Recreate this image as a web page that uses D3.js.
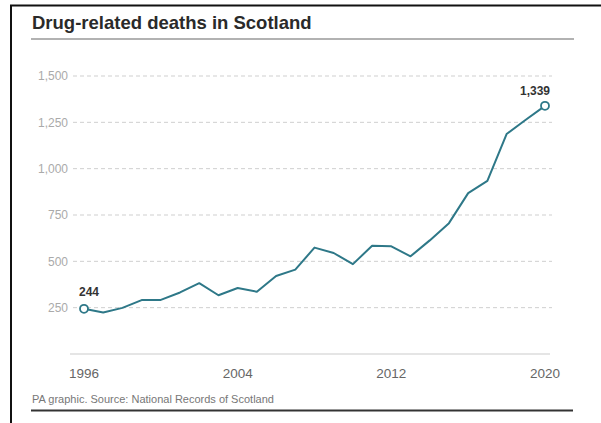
<!DOCTYPE html>
<html>
<head>
<meta charset="utf-8">
<script src="https://cdn.jsdelivr.net/npm/d3@7"></script>
<style>
  html, body { margin: 0; padding: 0; background: #fff; }
  svg { display: block; }
</style>
</head>
<body>
<svg id="chart" width="601" height="423"></svg>
<script>
// data
const years = [1996, 1997, 1998, 1999, 2000, 2001, 2002, 2003, 2004, 2005, 2006, 2007, 2008,
  2009, 2010, 2011, 2012, 2013, 2014, 2015, 2016, 2017, 2018, 2019, 2020];
const deaths = [244, 224, 249, 291, 292, 332, 382, 317, 356, 336, 421, 455, 574,
  545, 485, 584, 581, 527, 613, 706, 868, 934, 1187, 1264, 1339];
const yTicks = [250, 500, 750, 1000, 1250, 1500];
const xTicks = [1996, 2004, 2012, 2020];
const title = "Drug-related deaths in Scotland";
const source = "PA graphic. Source: National Records of Scotland";

const Viz = {};

Viz.initialize = (el) => {
  Viz.svg = d3.select(el);
  Viz.lineColor = "#2e7888";
  Viz.font = "'Liberation Sans', Arial, sans-serif";

  Viz.x = d3.scaleLinear().domain([1996, 2020]).range([84, 545]);
  Viz.y = d3.scaleLinear().domain([0, 1500]).range([354, 76]);

  const data = years.map((yr, i) => ({year: yr, value: deaths[i]}));

  // frame
  Viz.svg.append("line")
    .attr("x1", 11).attr("x2", 11).attr("y1", 5).attr("y2", 423)
    .attr("stroke", "#111").attr("stroke-width", 2);
  Viz.svg.append("line")
    .attr("x1", 10).attr("x2", 601).attr("y1", 5.5).attr("y2", 5.5)
    .attr("stroke", "#111").attr("stroke-width", 2);

  // title + rule
  Viz.svg.append("text")
    .attr("x", 32).attr("y", 29)
    .attr("font-family", Viz.font).attr("font-size", 18.5).attr("font-weight", "bold")
    .attr("fill", "#2a2a2a")
    .text(title);
  Viz.svg.append("line")
    .attr("x1", 31).attr("x2", 574).attr("y1", 39).attr("y2", 39)
    .attr("stroke", "#999").attr("stroke-width", 1.5);

  // grid
  const grid = Viz.svg.append("g").attr("class", "grid");
  grid.selectAll("line").data(yTicks).join("line")
    .attr("x1", 73).attr("x2", 552)
    .attr("y1", d => Viz.y(d)).attr("y2", d => Viz.y(d))
    .attr("stroke", "#cfcfcf").attr("stroke-dasharray", "4,3");
  grid.selectAll("text").data(yTicks).join("text")
    .attr("x", 68).attr("y", d => Viz.y(d)).attr("dy", "0.35em")
    .attr("text-anchor", "end")
    .attr("font-family", Viz.font).attr("font-size", 12)
    .attr("fill", "#aaa")
    .text(d => d3.format(",")(d));

  // x axis
  Viz.svg.append("line")
    .attr("x1", 70).attr("x2", 550).attr("y1", Viz.y(0)).attr("y2", Viz.y(0))
    .attr("stroke", "#ddd").attr("stroke-width", 1.5);
  Viz.svg.append("g").selectAll("text").data(xTicks).join("text")
    .attr("x", d => Viz.x(d)).attr("y", 378)
    .attr("text-anchor", "middle")
    .attr("font-family", Viz.font).attr("font-size", 13.5)
    .attr("fill", "#666")
    .text(d => d);

  // line
  const line = d3.line().x(d => Viz.x(d.year)).y(d => Viz.y(d.value));
  Viz.svg.append("path").datum(data)
    .attr("d", line)
    .attr("fill", "none")
    .attr("stroke", Viz.lineColor).attr("stroke-width", 2)
    .attr("stroke-linejoin", "round");

  // end points
  const ends = [data[0], data[data.length - 1]];
  Viz.svg.selectAll("circle.end").data(ends).join("circle")
    .attr("class", "end")
    .attr("cx", d => Viz.x(d.year)).attr("cy", d => Viz.y(d.value))
    .attr("r", 4)
    .attr("fill", "#fff").attr("stroke", Viz.lineColor).attr("stroke-width", 1.8);
  Viz.svg.selectAll("text.end").data(ends).join("text")
    .attr("class", "end")
    .attr("x", (d, i) => i === 0 ? Viz.x(d.year) - 5 : Viz.x(d.year) + 5)
    .attr("y", (d, i) => Viz.y(d.value) - (i === 0 ? 13 : 11))
    .attr("text-anchor", (d, i) => i === 0 ? "start" : "end")
    .attr("font-family", Viz.font).attr("font-size", 12).attr("font-weight", "bold")
    .attr("fill", "#333")
    .text(d => d3.format(",")(d.value));

  // footer
  Viz.svg.append("text")
    .attr("x", 32).attr("y", 403)
    .attr("font-family", Viz.font).attr("font-size", 11)
    .attr("fill", "#777")
    .text(source);
  Viz.svg.append("line")
    .attr("x1", 31).attr("x2", 573).attr("y1", 410.5).attr("y2", 410.5)
    .attr("stroke", "#333").attr("stroke-width", 2);
};

Viz.initialize(document.getElementById("chart"));
</script>
</body>
</html>
